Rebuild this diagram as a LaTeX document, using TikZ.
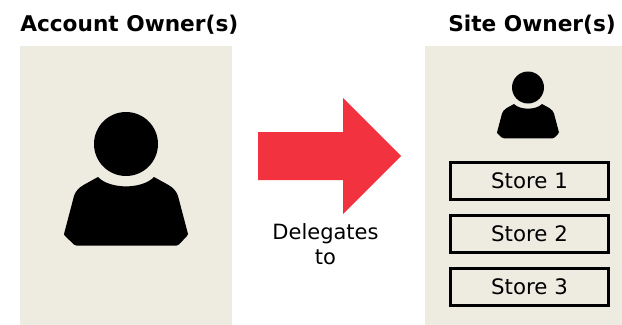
\documentclass[tikz,border=0pt]{standalone}
\usepackage{fontspec}
\setmainfont{DejaVu Sans}
\definecolor{panelc}{HTML}{EEECE1}
\definecolor{arrowc}{HTML}{F2323F}
\newcommand{\personshape}{
  \fill[black] (0,0) circle (32);
  \fill[black] (-28,33) .. controls (-16,45.5) and (16,45.5) .. (28,33)
    -- (42.5,41) .. controls (47,43.5) and (51,48) .. (52,52)
    -- (62,90) [rounded corners=1pt] -- (62,91) -- (52,101.5) -- (-51,101.5) -- (-62,91) -- (-62,90) [sharp corners] -- (-52,52)
    .. controls (-51,48) and (-47,43.5) .. (-42.5,41) -- cycle;
}
\tikzset{
  panel/.style={fill=panelc,draw=none},
  title/.style={font=\fontsize{16.25pt}{19pt}\selectfont\bfseries,inner sep=0pt,anchor=base west},
  storebox/.style={draw=black,line width=2.25pt,fill=none,minimum width=119pt,minimum height=27.5pt,inner sep=0pt,font=\fontsize{16pt}{19pt}\selectfont},
  lbl/.style={font=\fontsize{15.75pt}{19pt}\selectfont,inner sep=0pt,anchor=base},
}
\begin{document}
\begin{tikzpicture}[x=0.75pt,y=-0.75pt]
\useasboundingbox (0,0) rectangle (622,325);
\fill[white] (0,0) rectangle (622,325);
\fill[panel] (20,46) rectangle (232,325);
\fill[panel] (425,46) rectangle (622,325);
\node[title] (acct) at (20,31) {Account Owner(s)};
\node[title] (site) at (448,31) {Site Owner(s)};
\begin{scope}[shift={(126,144)}]
\personshape
\end{scope}
\begin{scope}[shift={(528,87.5)},x=0.375pt,y=-0.375pt]
\personshape
\end{scope}
\fill[arrowc] (258,132) -- (343,132) -- (343,98) -- (401,156) -- (343,214) -- (343,180) -- (258,180) -- cycle;
\node[lbl] (d1) at (325.5,239) {Delegates};
\node[lbl] (d2) at (325.5,264) {to};
\node[storebox] (s1) at (529.5,181) {Store 1};
\node[storebox] (s2) at (529.5,234) {Store 2};
\node[storebox] (s3) at (529.5,287) {Store 3};
\end{tikzpicture}
\end{document}
